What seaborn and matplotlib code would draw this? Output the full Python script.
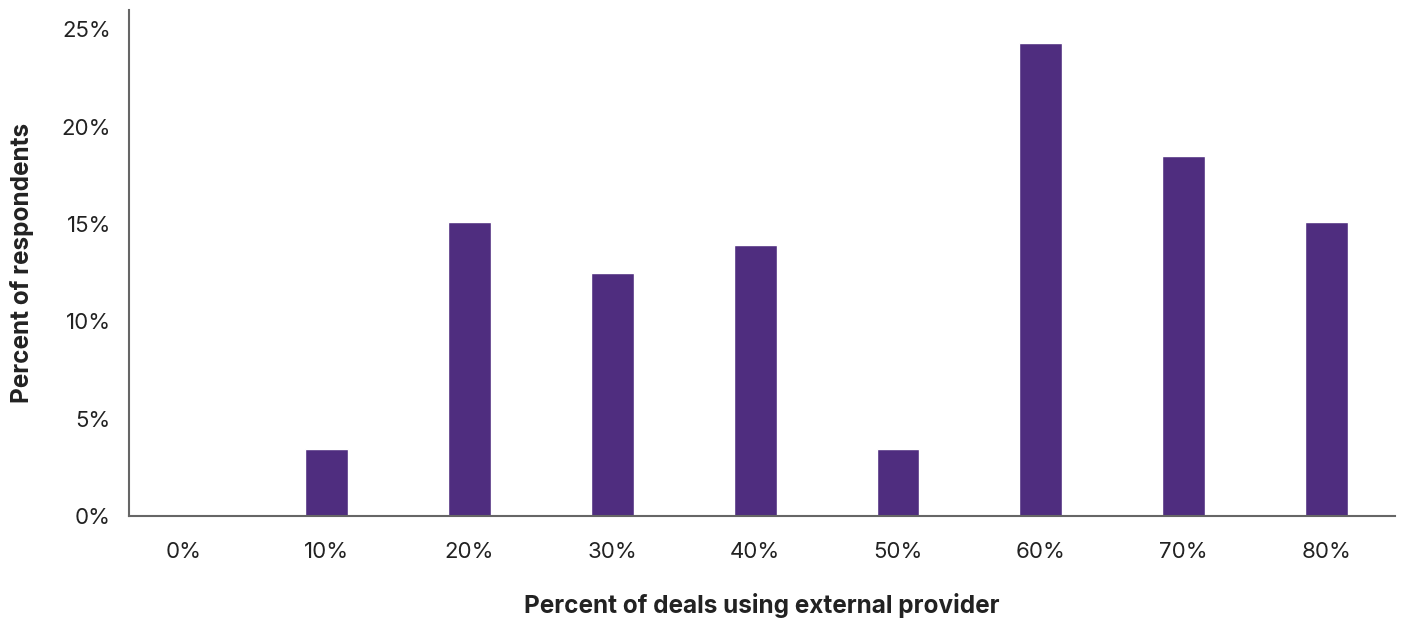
import pandas as pd
import matplotlib.pyplot as plt
import seaborn as sns
from matplotlib.ticker import FuncFormatter

# Share of deals handled by an external provider vs. share of respondents
deal_share = ['0%', '10%', '20%', '30%', '40%', '50%', '60%', '70%', '80%']
respondents_pct = [0.0, 3.45, 15.1, 12.5, 13.9, 3.45, 24.3, 18.5, 15.1]
y_ticks = [0, 5, 10, 15, 20, 25]

bar_color = '#4F2D7F'
axis_color = '#666666'
text_color = '#222222'

df = pd.DataFrame({'deals': deal_share, 'pct': respondents_pct})

sns.set_style('white')
plt.rcParams['font.family'] = ['Inter', 'DejaVu Sans']

fig = plt.figure(figsize=(14.02, 6.18), dpi=100)
ax = fig.add_axes([0.092, 0.165, 0.903, 0.819])

sns.barplot(data=df, x='deals', y='pct', color=bar_color, width=0.3,
            saturation=1, ax=ax)

ax.set_xlim(-0.385, 8.48)
ax.set_ylim(0, 26)
ax.set_yticks(y_ticks)
ax.yaxis.set_major_formatter(FuncFormatter(lambda v, p: f'{v:.0f}%'))

ax.tick_params(axis='both', length=0, labelsize=16, labelcolor=text_color)
ax.tick_params(axis='x', pad=19)
ax.tick_params(axis='y', pad=13)

for side in ['top', 'right']:
    ax.spines[side].set_visible(False)
for side in ['left', 'bottom']:
    ax.spines[side].set_color(axis_color)
    ax.spines[side].set_linewidth(1.5)

ax.set_xlabel('Percent of deals using external provider', fontsize=17.5,
              fontweight='bold', color=text_color, labelpad=22)
ax.set_ylabel('Percent of respondents', fontsize=17.5, fontweight='bold',
              color=text_color, labelpad=20)

fig.savefig('out.png', dpi=100)
